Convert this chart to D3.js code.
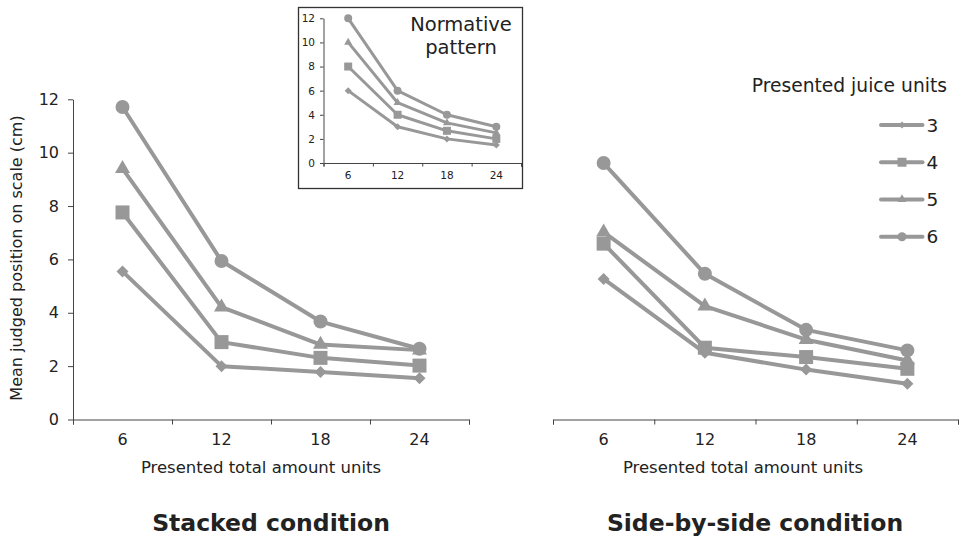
<!DOCTYPE html>
<meta charset="utf-8">
<script src="https://d3js.org/d3.v7.min.js"></script>
<style>
  body { margin: 0; background: #fff; }
  text { font-family: "DejaVu Sans", Verdana, sans-serif; fill: #222; }
</style>
<div id="my_dataviz"></div>
<script>

// categories on the x axis (presented total amount units)
var totals = ["6", "12", "18", "24"];
// series = presented juice units
var juice = ["3", "4", "5", "6"];
var shapes = ["diamond", "square", "triangle", "circle"];

// stacked condition, one array per juice level
var stacked3 = [5.55, 2.0, 1.78, 1.55];
var stacked4 = [7.76, 2.9, 2.31, 2.02];
var stacked5 = [9.4, 4.21, 2.81, 2.6];
var stacked6 = [11.71, 5.94, 3.67, 2.65];

// side-by-side condition
var side3 = [5.27, 2.5, 1.87, 1.34];
var side4 = [6.59, 2.69, 2.34, 1.9];
var side5 = [7.02, 4.25, 2.99, 2.21];
var side6 = [9.61, 5.46, 3.36, 2.59];

// normative pattern (inset)
var norm3 = [6, 3, 2, 1.5];
var norm4 = [8, 4, 2.67, 2];
var norm5 = [10, 5, 3.33, 2.5];
var norm6 = [12, 6, 4, 3];

var yTicks = [0, 2, 4, 6, 8, 10, 12];

var lineColor = "#989898";
var axisColor = "#444";

var svg = d3.select("#my_dataviz")
  .append("svg")
    .attr("width", 961)
    .attr("height", 539);

function markerPath(shape, size) {
  // size = approx width in px
  if (shape == "circle") return d3.symbol(d3.symbolCircle, Math.PI * size * size / 4)();
  if (shape == "square") return d3.symbol(d3.symbolSquare, size * size)();
  if (shape == "triangle") return d3.symbol(d3.symbolTriangle, Math.sqrt(3) / 4 * size * size)();
  // diamond: rotated square
  var h = size / 2;
  return "M0," + (-h) + "L" + h + ",0L0," + h + "L" + (-h) + ",0Z";
}

function drawPanel(opt) {
  var g = svg.append("g");
  var x = d3.scaleBand().domain(totals).range([opt.x0, opt.x1]);
  var y = d3.scaleLinear().domain([0, 12]).range([opt.yBottom, opt.yTop]);

  // category axis: tick marks between categories, labels centered
  var xEdges = d3.scaleLinear().domain([0, totals.length]).range([opt.x0, opt.x1]);
  var ax = g.append("g")
    .attr("transform", "translate(0," + opt.yBottom + ")")
    .call(d3.axisBottom(xEdges).ticks(totals.length).tickSize(opt.tick).tickSizeOuter(opt.tick).tickFormat(""));
  ax.selectAll("path, line").attr("stroke", axisColor);

  var axl = g.append("g")
    .attr("transform", "translate(0," + opt.yBottom + ")")
    .call(d3.axisBottom(x).tickSize(0).tickPadding(opt.xPad));
  axl.select(".domain").remove();
  axl.selectAll("text")
    .attr("font-family", "DejaVu Sans, Verdana, sans-serif")
    .attr("font-size", opt.tickFont)
    .attr("fill", "#222");

  if (opt.yAxis) {
    var ay = g.append("g")
      .attr("transform", "translate(" + opt.x0 + ",0)")
      .call(d3.axisLeft(y).tickValues(yTicks).tickSize(opt.tick).tickSizeOuter(0).tickPadding(opt.yPad));
    ay.selectAll("path, line").attr("stroke", axisColor);
    ay.selectAll("text")
      .attr("font-family", "DejaVu Sans, Verdana, sans-serif")
      .attr("font-size", opt.tickFont)
      .attr("fill", "#222");
  }

  var line = d3.line()
    .x(function(d, i) { return x(totals[i]) + x.bandwidth() / 2; })
    .y(function(d) { return y(d); });

  opt.series.forEach(function(vals, k) {
    g.append("path")
      .datum(vals)
      .attr("d", line)
      .attr("fill", "none")
      .attr("stroke", lineColor)
      .attr("stroke-width", opt.lineW)
      .attr("stroke-linejoin", "round");
  });
  opt.series.forEach(function(vals, k) {
    g.selectAll(null)
      .data(vals)
      .enter()
      .append("path")
        .attr("d", markerPath(shapes[k], opt.markers[k]))
        .attr("transform", function(d, i) {
          return "translate(" + (x(totals[i]) + x.bandwidth() / 2) + "," + y(d) + ")";
        })
        .attr("fill", lineColor);
  });
  return g;
}

// inset box
svg.append("rect")
  .attr("x", 298.5).attr("y", 7.5)
  .attr("width", 224).attr("height", 181)
  .attr("fill", "#fff")
  .attr("stroke", "#333")
  .attr("stroke-width", 1.3);

var bigMarkers = [12, 14, 15, 14];

// left: stacked
drawPanel({
  x0: 73, x1: 469, yBottom: 419.5, yTop: 99.3,
  series: [stacked3, stacked4, stacked5, stacked6],
  yAxis: true, tick: 5, xPad: 14, yPad: 9, tickFont: "16px",
  lineW: 4, markers: bigMarkers
});

// right: side-by-side
drawPanel({
  x0: 553, x1: 958, yBottom: 419.5, yTop: 99.3,
  series: [side3, side4, side5, side6],
  yAxis: false, tick: 5, xPad: 14, yPad: 9, tickFont: "16px",
  lineW: 4, markers: bigMarkers
});

// inset: normative pattern
drawPanel({
  x0: 323.5, x1: 521, yBottom: 163, yTop: 18.3,
  series: [norm3, norm4, norm5, norm6],
  yAxis: true, tick: 3.5, xPad: 9, yPad: 5, tickFont: "10.5px",
  lineW: 3, markers: [7, 8, 8, 8]
});

svg.append("text")
  .attr("x", 461).attr("y", 31)
  .attr("text-anchor", "middle")
  .attr("font-size", "19.5px")
  .text("Normative");
svg.append("text")
  .attr("x", 461).attr("y", 54)
  .attr("text-anchor", "middle")
  .attr("font-size", "19.5px")
  .text("pattern");

// axis titles
svg.append("text")
  .attr("transform", "translate(22,258) rotate(-90)")
  .attr("text-anchor", "middle")
  .attr("font-size", "16px")
  .text("Mean judged position on scale (cm)");

svg.append("text")
  .attr("x", 261).attr("y", 473)
  .attr("text-anchor", "middle")
  .attr("font-size", "16.5px")
  .text("Presented total amount units");
svg.append("text")
  .attr("x", 743).attr("y", 473)
  .attr("text-anchor", "middle")
  .attr("font-size", "16.5px")
  .text("Presented total amount units");

// panel titles
svg.append("text")
  .attr("x", 271).attr("y", 531)
  .attr("text-anchor", "middle")
  .attr("font-size", "23.5px")
  .attr("font-weight", "bold")
  .text("Stacked condition");
svg.append("text")
  .attr("x", 755).attr("y", 531)
  .attr("text-anchor", "middle")
  .attr("font-size", "23.5px")
  .attr("font-weight", "bold")
  .text("Side-by-side condition");

// legend
var legend = svg.append("g");
legend.append("text")
  .attr("x", 947).attr("y", 92)
  .attr("text-anchor", "end")
  .attr("font-size", "18.7px")
  .text("Presented juice units");

var legY = d3.scalePoint().domain(juice).range([125, 236.7]);
var items = legend.selectAll(".item")
  .data(juice)
  .enter()
  .append("g")
    .attr("transform", function(d) { return "translate(0," + legY(d) + ")"; });
items.append("line")
  .attr("x1", 881).attr("x2", 922.5)
  .attr("stroke", lineColor)
  .attr("stroke-width", 4)
  .attr("stroke-linecap", "round");
items.append("path")
  .attr("d", function(d, i) { return markerPath(shapes[i], [7, 9, 9, 9][i]); })
  .attr("transform", "translate(902,0)")
  .attr("fill", lineColor);
items.append("text")
  .attr("x", 926.5).attr("y", 6.5)
  .attr("font-size", "18.5px")
  .text(function(d) { return d; });

</script>
